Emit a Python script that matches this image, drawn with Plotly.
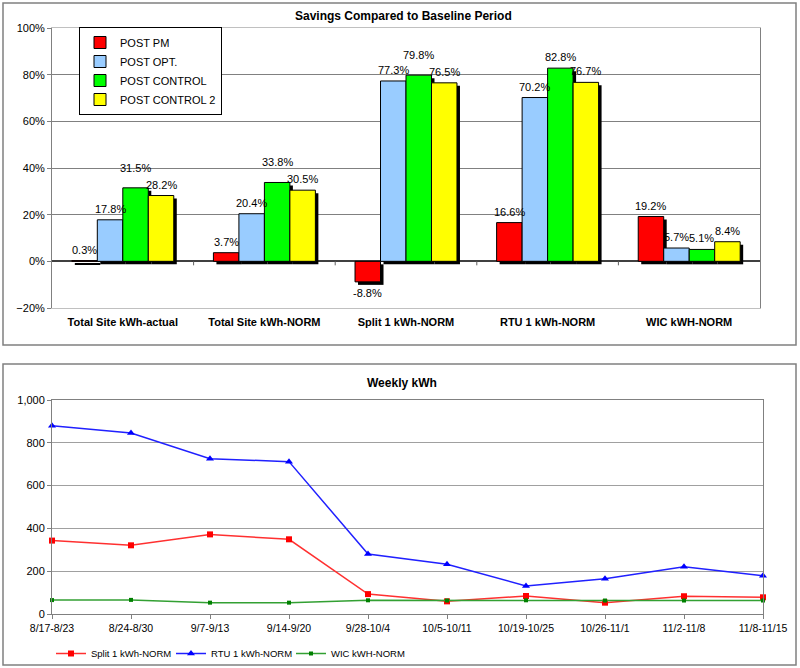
import plotly.graph_objects as go

# ---- Data: top chart (savings) ----
bar_categories = ["Total Site kWh-actual", "Total Site kWh-NORM", "Split 1 kWh-NORM",
                  "RTU 1 kWh-NORM", "WIC kWH-NORM"]
post_pm = [0.003, 0.037, -0.088, 0.166, 0.192]
post_opt = [0.178, 0.204, 0.773, 0.702, 0.057]
post_control = [0.315, 0.338, 0.798, 0.828, 0.051]
post_control2 = [0.282, 0.305, 0.765, 0.767, 0.084]
bar_series_names = ["POST PM", "POST OPT.", "POST CONTROL", "POST CONTROL 2"]
bar_colors = ["#FF0000", "#99CCFF", "#00FF00", "#FFFF00"]

# ---- Data: bottom chart (weekly kWh) ----
weeks = ["8/17-8/23", "8/24-8/30", "9/7-9/13", "9/14-9/20", "9/28-10/4",
         "10/5-10/11", "10/19-10/25", "10/26-11/1", "11/2-11/8", "11/8-11/15"]
split1 = [343, 321, 372, 349, 93, 59, 84, 53, 83, 78]
rtu1 = [880, 846, 726, 712, 280, 232, 131, 165, 221, 179]
wic = [65, 66, 53, 53, 64, 63, 64, 63, 63, 63]

FONT = "Arial, Liberation Sans, sans-serif"
W, H = 800, 668

def py(px):  # pixel y -> paper y
    return 1 - px / H

def pxx(px):
    return px / W

fig = go.Figure()

# geometry for bars
n_series = 4
bw = 0.18
group_left = -bw * n_series / 2
top_plot_h = 308 - 28
px_per_unit = top_plot_h / 1.2
sx = 3 / 141.6               # shadow x offset (category units)
sy = 3 / px_per_unit         # shadow y offset (data units)

series_vals = [post_pm, post_opt, post_control, post_control2]
xs = list(range(len(bar_categories)))

# shadows first
for i, vals in enumerate(series_vals):
    fig.add_trace(go.Bar(
        x=xs, y=vals, base=[-sy] * len(vals), width=bw, offset=group_left + i * bw + sx,
        marker=dict(color="black", line=dict(width=0)), showlegend=False,
        hoverinfo="skip", xaxis="x", yaxis="y"))

for i, vals in enumerate(series_vals):
    fig.add_trace(go.Bar(
        x=xs, y=vals, width=bw, offset=group_left + i * bw, name=bar_series_names[i],
        marker=dict(color=bar_colors[i], line=dict(color="black", width=1)),
        legend="legend", xaxis="x", yaxis="y"))

# value labels (staggered like the original where neighbours collide)
annotations = []
for g in xs:
    for i, vals in enumerate(series_vals):
        v = vals[g]
        raise_px = 0
        if i + 1 < n_series:
            nv = series_vals[i + 1][g]
            if abs(v - nv) * px_per_unit < 12 and v >= nv and v > 0.2:
                raise_px = 9
        annotations.append(dict(
            x=g + group_left + (i + 0.5) * bw, y=v, xref="x", yref="y",
            text="%.1f%%" % (v * 100), showarrow=False, xanchor="center",
            yanchor="bottom" if v >= 0 else "top",
            yshift=(3 + raise_px) if v >= 0 else -3,
            font=dict(family=FONT, size=11, color="black")))

# lines
fig.add_trace(go.Scatter(x=list(range(len(weeks))), y=split1, name="Split 1 kWh-NORM",
                         mode="lines+markers", line=dict(color="#FF3030", width=1.5),
                         marker=dict(symbol="square", size=6, color="#FF0000"),
                         xaxis="x2", yaxis="y2", legend="legend2", cliponaxis=False))
fig.add_trace(go.Scatter(x=list(range(len(weeks))), y=rtu1, name="RTU 1 kWh-NORM",
                         mode="lines+markers", line=dict(color="#2020FF", width=1.5),
                         marker=dict(symbol="triangle-up", size=7, color="#0000FF"),
                         xaxis="x2", yaxis="y2", legend="legend2", cliponaxis=False))
fig.add_trace(go.Scatter(x=list(range(len(weeks))), y=wic, name="WIC kWH-NORM",
                         mode="lines+markers", line=dict(color="#33A033", width=1.5),
                         marker=dict(symbol="square", size=4, color="#008000"),
                         xaxis="x2", yaxis="y2", legend="legend2", cliponaxis=False))

shapes = [
    # outer chart boxes
    dict(type="rect", xref="paper", yref="paper", x0=pxx(3), x1=pxx(796), y0=py(345), y1=py(3),
         line=dict(color="#808080", width=1.5), fillcolor="rgba(0,0,0,0)", layer="below"),
    dict(type="rect", xref="paper", yref="paper", x0=pxx(3), x1=pxx(796), y0=py(665), y1=py(364),
         line=dict(color="#808080", width=1.5), fillcolor="rgba(0,0,0,0)", layer="below"),
    # legend shadow
    dict(type="rect", xref="paper", yref="paper", x0=pxx(82), x1=pxx(221), y0=py(115), y1=py(31),
         line=dict(width=0), fillcolor="#505050", layer="above"),
]
# category boundary tick marks on the zero line
for k in range(1, len(bar_categories)):
    shapes.append(dict(type="line", xref="x", yref="y", x0=k - 0.5, x1=k - 0.5,
                       ysizemode="pixel", yanchor=0, y0=0, y1=-4,
                       line=dict(color="#606060", width=1)))

annotations += [
    dict(text="<b>Savings Compared to Baseline Period</b>", xref="paper", yref="paper",
         x=pxx(403), y=py(16), xanchor="center", yanchor="middle", showarrow=False,
         font=dict(family=FONT, size=12, color="black")),
    dict(text="<b>Weekly kWh</b>", xref="paper", yref="paper",
         x=pxx(402), y=py(383), xanchor="center", yanchor="middle", showarrow=False,
         font=dict(family=FONT, size=12, color="black")),
]

fig.update_layout(
    width=W, height=H, margin=dict(l=0, r=0, t=0, b=0, autoexpand=False),
    paper_bgcolor="white", plot_bgcolor="white",
    font=dict(family=FONT, size=11, color="black"),
    barmode="overlay",
    shapes=shapes, annotations=annotations,
    xaxis=dict(domain=[pxx(52), pxx(760)], range=[-0.5, 4.5], tickvals=xs,
               ticktext=["<b>%s</b>" % c for c in bar_categories], showgrid=False,
               zeroline=False, showline=True, linecolor="#C0C0C0", mirror=True,
               ticks="", ticklabelstandoff=4, tickfont=dict(family=FONT, size=11), anchor="y",
               automargin=False),
    yaxis=dict(domain=[py(308), py(28)], range=[-0.2, 1.0], tickformat=".0%", dtick=0.2,
               showgrid=True, gridcolor="#808080", gridwidth=1,
               zeroline=True, zerolinecolor="#404040", zerolinewidth=1.5,
               showline=True, linecolor="#808080", mirror=True, ticks="outside", ticklen=4,
               tickcolor="#808080", tickfont=dict(family=FONT, size=11), anchor="x",
               automargin=False),
    xaxis2=dict(domain=[pxx(52), pxx(763)], range=[0, len(weeks) - 1], tickvals=list(range(len(weeks))),
                ticktext=weeks, showgrid=False, zeroline=False, showline=True, linecolor="#808080",
                mirror=True, ticks="outside", ticklen=4, tickcolor="#808080",
                tickfont=dict(family=FONT, size=10.5), anchor="y2", automargin=False),
    yaxis2=dict(domain=[py(614), py(400)], range=[0, 1000], dtick=200, tickformat=",",
                showgrid=True, gridcolor="#A0A0A0", zeroline=False, showline=True,
                linecolor="#808080", mirror=True, ticks="outside", ticklen=4, tickcolor="#808080",
                tickfont=dict(family=FONT, size=11), anchor="x2", automargin=False),
    legend=dict(x=pxx(79), y=py(27), xanchor="left", yanchor="top", bgcolor="white",
                bordercolor="black", borderwidth=1, font=dict(family=FONT, size=11),
                tracegroupgap=0, itemwidth=30),
    legend2=dict(x=pxx(51), y=py(639), xanchor="left", yanchor="top", orientation="h",
                 entrywidth=75, entrywidthmode="pixels",
                 bgcolor="rgba(0,0,0,0)", font=dict(family=FONT, size=9.5)),
)

fig.write_html(
    "out.html",
    config={"displayModeBar": False},
    post_script="document.documentElement.style.margin='0';document.body.style.margin='0';"
                "document.body.style.padding='0';document.body.style.overflow='hidden';",
)
